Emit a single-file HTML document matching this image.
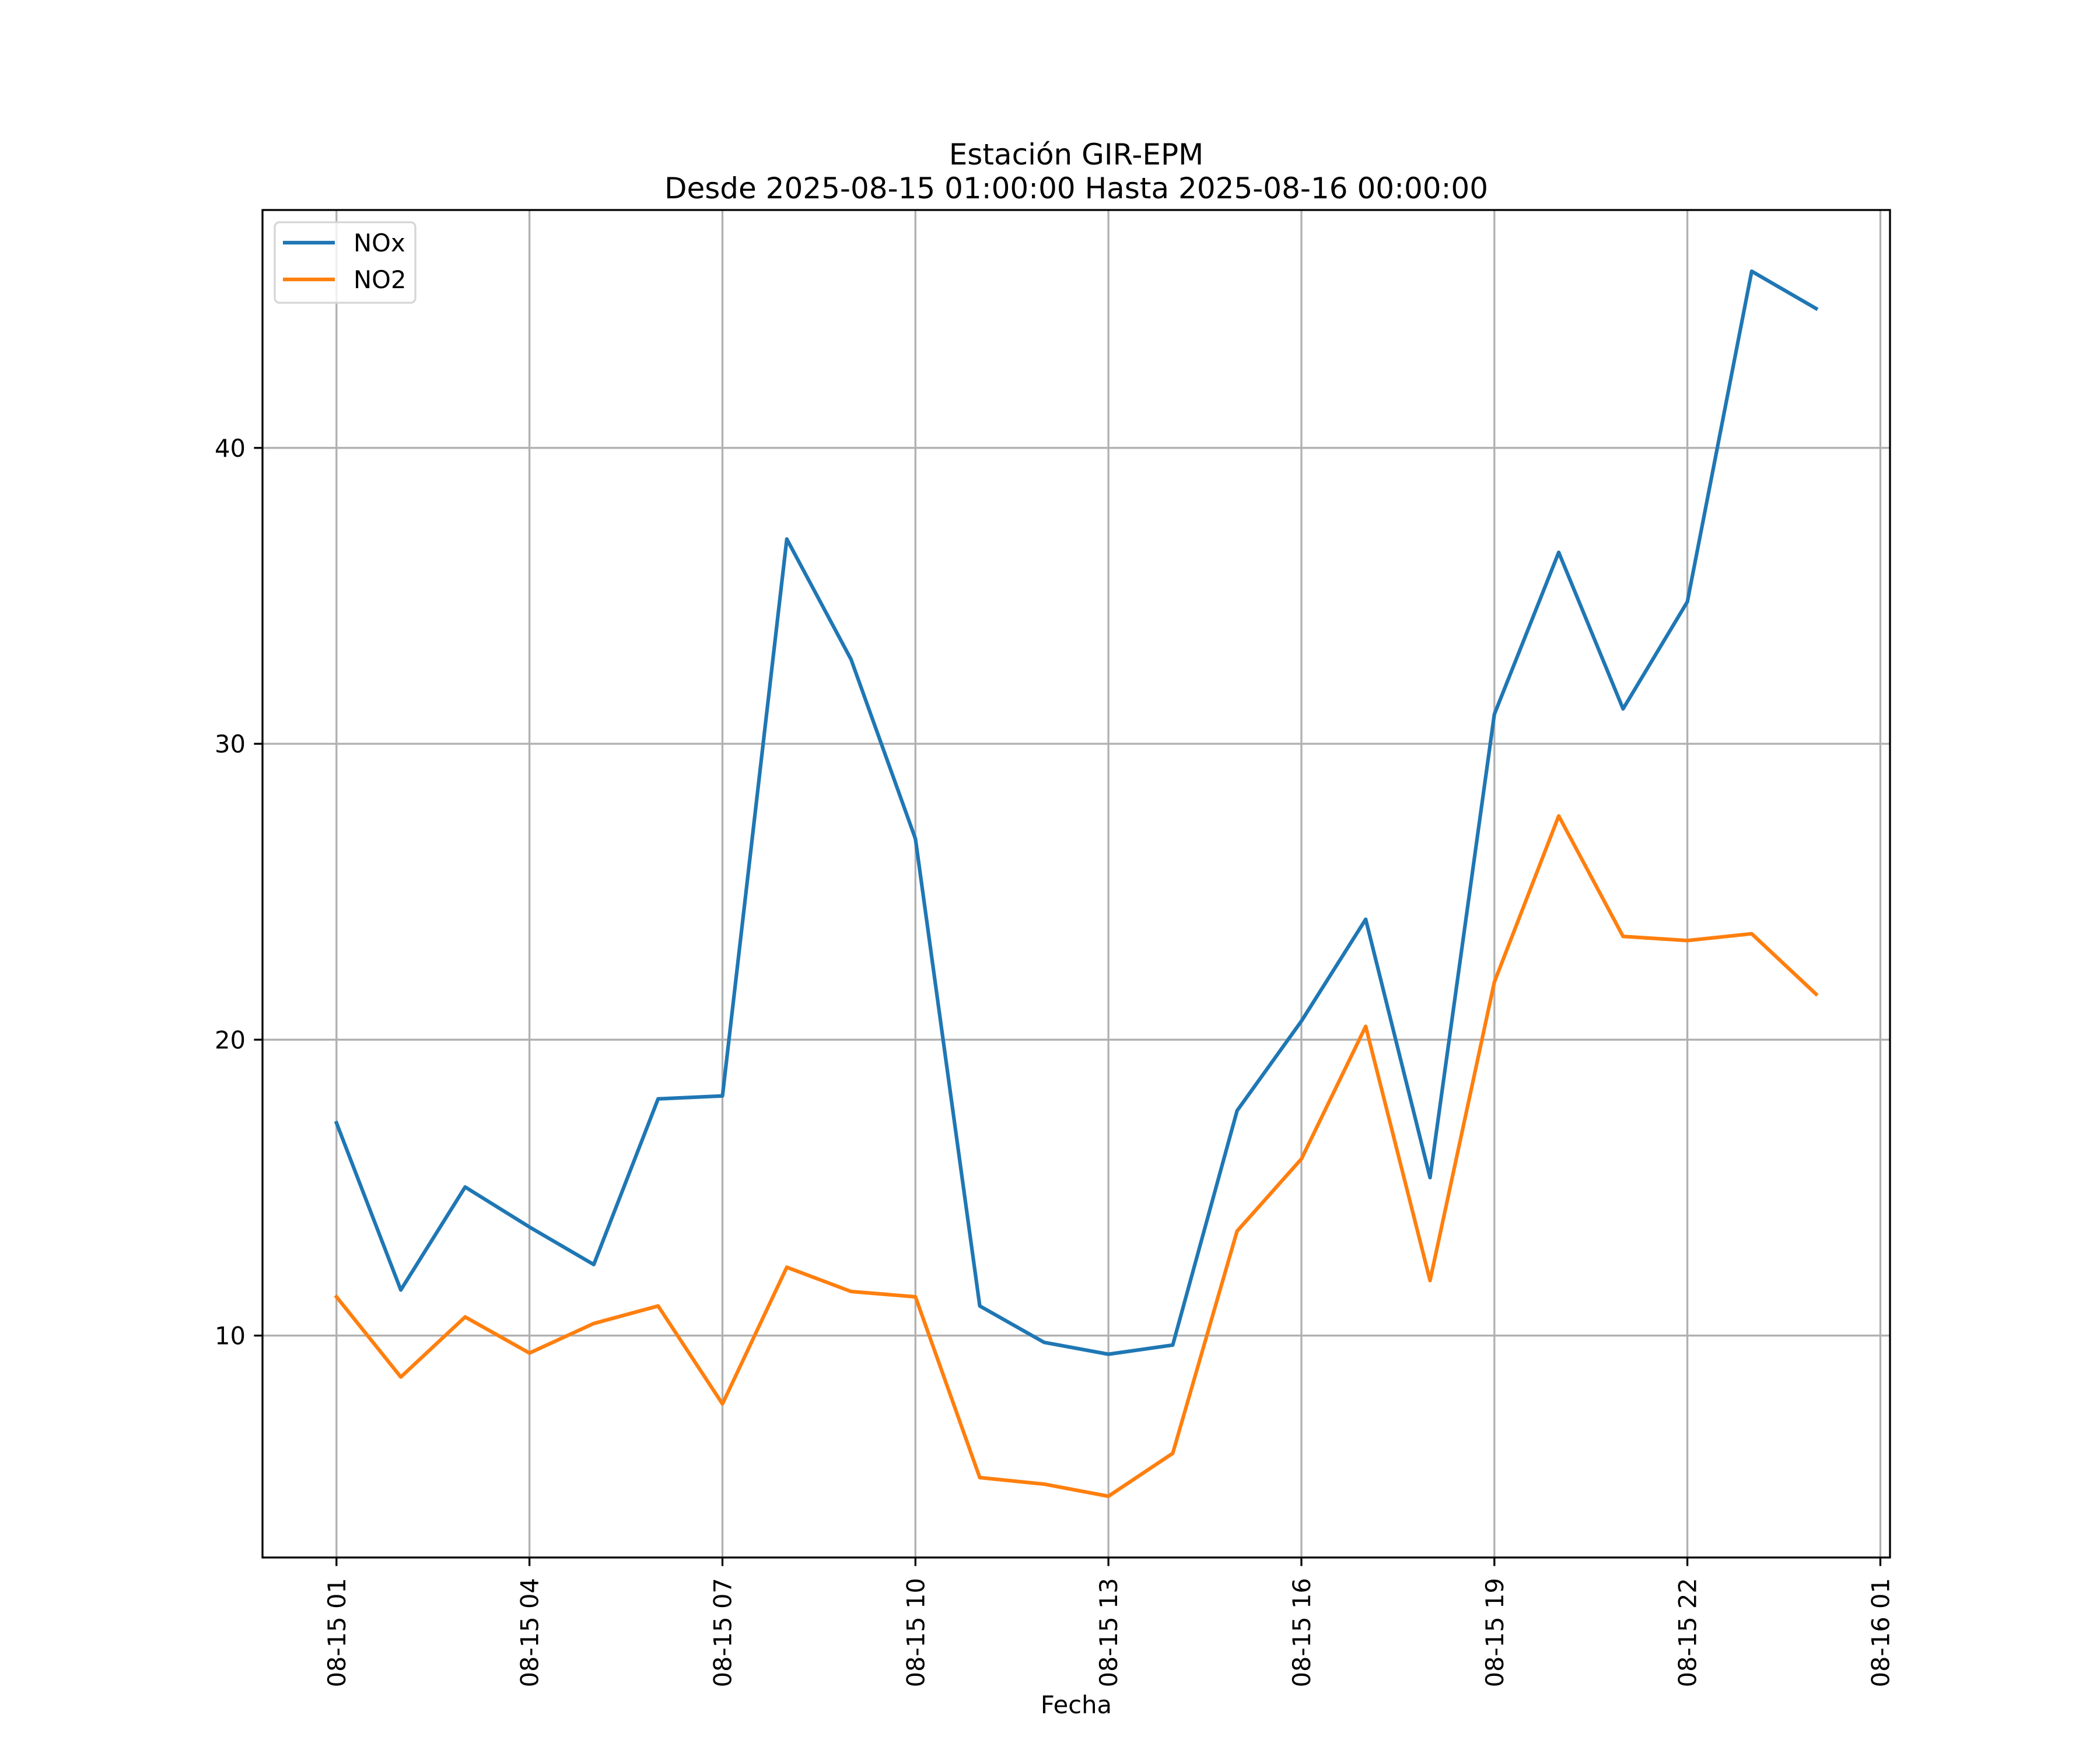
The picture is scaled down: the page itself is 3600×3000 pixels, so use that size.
<!DOCTYPE html>
<html><head><meta charset="utf-8"><style>html,body{margin:0;padding:0;background:#fff}svg{display:block}text{font-family:"DejaVu Sans","Liberation Sans",sans-serif;fill:#000}</style></head>
<body>
<svg id="chart" width="3600" height="3000" viewBox="0 0 3600 3000" xmlns="http://www.w3.org/2000/svg">
<rect width="3600" height="3000" fill="#fff"/>
<g id="grid"></g>
<g id="series"></g>
<rect x="450" y="360" width="2790" height="2310" fill="none" stroke="#000" stroke-width="3.3"/>
<g id="ticks"></g>
<text x="1845" y="282" font-size="50" text-anchor="middle">Estación GIR-EPM</text>
<text x="1845" y="340" font-size="50" text-anchor="middle">Desde 2025-08-15 01:00:00 Hasta 2025-08-16 00:00:00</text>
<text x="1845" y="2937" font-size="41.7" text-anchor="middle">Fecha</text>
<g>
<rect x="471" y="381" width="241" height="138" rx="8" fill="#fff" fill-opacity="0.8" stroke="#d6d6d6" stroke-width="3.3"/>
<line x1="485" y1="416" x2="574" y2="416" stroke="#1f77b4" stroke-width="6.25"/>
<text x="606" y="431" font-size="41.7">NOx</text>
<line x1="485" y1="479" x2="574" y2="479" stroke="#ff7f0e" stroke-width="6.25"/>
<text x="606" y="494" font-size="41.7">NO2</text>
</g>
</svg>
<script>
const hours = [1,2,3,4,5,6,7,8,9,10,11,12,13,14,15,16,17,18,19,20,21,22,23,24];
const noxValues = [17.19,11.54,15.02,13.67,12.40,18.0,18.1,36.92,32.85,26.79,11.0,9.77,9.37,9.68,17.6,20.63,24.07,15.34,31.0,36.47,31.18,34.8,45.97,44.71];
const no2Values = [11.31,8.6,10.63,9.41,10.41,11.0,7.69,12.31,11.49,11.31,5.2,4.98,4.57,6.02,13.53,15.97,20.45,11.86,21.95,27.56,23.49,23.35,23.58,21.54];
const xTickHours = [1,4,7,10,13,16,19,22,25];
const xTickLabels = ["08-15 01","08-15 04","08-15 07","08-15 10","08-15 13","08-15 16","08-15 19","08-15 22","08-16 01"];
const yTicks = [10,20,30,40];

const NS="http://www.w3.org/2000/svg";
const L=450,R=3240,T=360,B=2670;
const allV=noxValues.concat(no2Values);
const vmin=Math.min(...allV),vmax=Math.max(...allV);
const ypad=(vmax-vmin)*0.05, y0=vmin-ypad, y1=vmax+ypad;
const hmin=Math.min(...hours),hmax=Math.max(...hours),xpad=(hmax-hmin)*0.05;
const x0=hmin-xpad,x1=hmax+xpad;
const xs=h=>L+(h-x0)/(x1-x0)*(R-L);
const ys=v=>B-(v-y0)/(y1-y0)*(B-T);
function mk(tag,attrs,parent){const e=document.createElementNS(NS,tag);for(const k in attrs)e.setAttribute(k,attrs[k]);parent.appendChild(e);return e;}
const grid=document.getElementById('grid'),ticks=document.getElementById('ticks'),series=document.getElementById('series');
xTickHours.forEach((h,i)=>{
  const x=xs(h);
  const g=mk('line',{x1:x,x2:x,y1:T,y2:B,stroke:'#b0b0b0','stroke-width':3.3},grid);
  
  
  const t=mk('line',{x1:x,x2:x,y1:B,y2:B+14.6,stroke:'#000','stroke-width':3.3},ticks);
  
  
  const lb=mk('text',{x:0,y:0,'font-size':41.7,'text-anchor':'end',transform:`translate(${x+15},${B+35}) rotate(-90)`},ticks);
  lb.textContent=xTickLabels[i];
  
  
});
yTicks.forEach(v=>{
  const y=ys(v);
  const g=mk('line',{x1:L,x2:R,y1:y,y2:y,stroke:'#b0b0b0','stroke-width':3.3},grid);
  
  
  const t=mk('line',{x1:L-14.6,x2:L,y1:y,y2:y,stroke:'#000','stroke-width':3.3},ticks);
  
  
  const lb=mk('text',{x:L-29,y:y+15,'font-size':41.7,'text-anchor':'end'},ticks);
  lb.textContent=String(v);
  
  
});
function drawLine(vals,color,name){
  const pts=hours.map((h,i)=>xs(h).toFixed(1)+','+ys(vals[i]).toFixed(1)).join(' ');
  const p=mk('polyline',{points:pts,fill:'none',stroke:color,'stroke-width':6.25,'stroke-linejoin':'round','stroke-linecap':'square'},series);
  
  
}
drawLine(noxValues,'#1f77b4','nox-line');
drawLine(no2Values,'#ff7f0e','no2-line');
</script>
</body></html>
